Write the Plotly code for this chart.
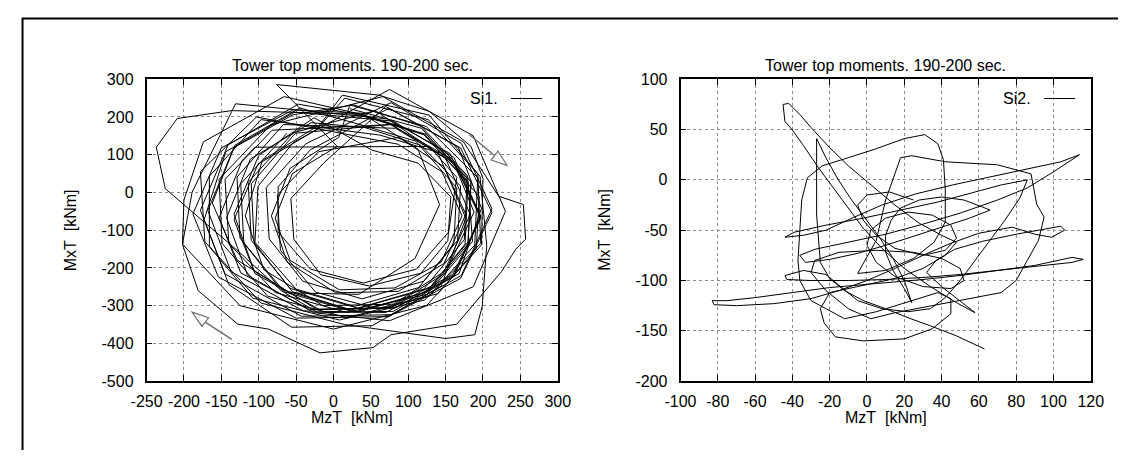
import plotly.graph_objects as go

W, H = 1131, 459
FONT = "Liberation Sans, Arial, Helvetica, sans-serif"

# ---------------- data: Si1 (left panel) ----------------
si1_name = "Si1."
si1_mzt = [
    22, 118, 180, 186, 125, 18, -78, -140, -145, -82,
    78, 150, 183, 148, 80, -14, -93, -118, -95, -18,
    12, 128, 193, 197, 122, 8, -108, -172, -178, -103,
    86, 145, 172, 144, 82, 8, -58, -78, -55, 5,
    -76, 61, 128, 184, 200, 198, 125, 0, -125, -202, -189, -131,
    72, 156, 188, 150, 76, -22, -106, -133, -100, -26,
    52, 113, 157, 153, 117, 48, -17, -53, -57, -13,
    70, 167, 198, 168, 70, -40, -137, -168, -132, -45,
    32, 110, 165, 161, 114, 28, -50, -105, -101, -54,
    75, 187, 230, 187, 75, -20, -70, -126, -225, -237, -209, -136,
    37, 121, 180, 176, 125, 33, -55, -106, -110, -51,
    76, 160, 197, 160, 76, -32, -124, -153, -122,
    -105, 128, 165, 154, 111, 40, -31, -74, -74, -31,
    74, 170, 212, 170, 74, -50, -154, -188, -150, -54,
    38, 113, 142, 109, 34, -58, -129, -162, -133, -54,
    27, 117, 179, 175, 121, 23, -71, -125, -129, -67,
    83, 161, 197, 161, 83, -19, -105, -133, -101, -23,
    15, 127, 196, 205, 199, 189, 150, 15, -97, -166, -166, -97,
    62, 144, 195, 191, 140, 58, -24, -71, -75, -20,
    87, 148, 177, 148, 87, 3, -62, -83, -58, 7,
    22, 124, 193, 189, 128, 18, -88, -149, -153, -84,
    66, 174, 221, 254, 257, 244, 225, 165, 77, 53, -18, -87, -128, -181, -202, -200, -174, -66,
    37, 124, 184, 180, 128, 33, -58, -110, -114, -54,
    56, 140, 177, 144, 52, -56, -140, -173, -144, -52,
    80, 161, 197, 161, 80, -26, -115, -143, -111, -30,
    42, 117, 170, 166, 121, 38, -41, -86, -90, -37,
    77, 171, 212, 171, 77, -43, -145, -178, -141, -47,
    32, 122, 184, 180, 126, 28, -66, -120, -124, -62,
]
si1_mxt = [
    222, 170, 30, -130, -270, -318, -265, -135, 35, 165,
    180, 90, -58, -210, -296, -300, -205, -62, 85, 180,
    258, 205, 50, -135, -285, -338, -280, -130, 55, 200,
    128, 55, -62, -185, -253, -258, -180, -68, 50, 122,
    286, 258, 215, 122, 37, -139, -299, -362, -300, -137, 1, 235,
    195, 103, -52, -213, -305, -310, -208, -58, 98, 198,
    112, 78, -12, -128, -214, -248, -218, -124, -16, 78,
    228, 120, -42, -215, -318, -314, -210, -48, 125, 224,
    182, 136, 12, -136, -252, -302, -256, -132, 16, 132,
    273, 150, -50, -250, -340, -320, -260, -158, 10, 120, 196, 217,
    207, 153, 27, -137, -263, -317, -263, -133, 23, 157,
    180, 87, -63, -217, -306, -310, -213, -67, 85,
    120, 122, 40, -105, -203, -240, -203, -105, 15, 113,
    223, 118, -53, -228, -329, -333, -224, -57, 118, 219,
    210, 115, -32, -175, -270, -266, -179, -28, 119, 206,
    232, 176, 45, -125, -256, -312, -256, -121, 41, 180,
    170, 79, -68, -219, -306, -310, -215, -72, 75, 166,
    250, 193, 43, -140, -302, -377, -387, -350, -293, -143, 43, 193,
    152, 104, -11, -149, -268, -308, -264, -153, -7, 108,
    146, 68, -58, -188, -262, -266, -184, -62, 64, 146,
    232, 175, 39, -139, -275, -332, -275, -135, 35, 179,
    254, 134, -10, -32, -124, -150, -209, -349, -377, -411, -425, -362, -349, -260, -137, -20, 134, 254,
    207, 154, 31, -131, -254, -307, -254, -127, 27, 158,
    217, 104, -68, -248, -353, -357, -244, -72, 108, 213,
    189, 93, -63, -223, -315, -319, -219, -67, 89, 185,
    172, 125, 17, -127, -235, -282, -235, -123, 13, 129,
    238, 130, -43, -220, -324, -328, -216, -47, 126, 234,
    207, 153, 27, -137, -263, -317, -263, -133, 23, 157,
]

# ---------------- data: Si2 (right panel) ----------------
si2_name = "Si2."
si2_pts = [
    (63, -168), (48, -155), (34, -145), (22, -137), (10, -128), (-2, -120), (-12, -110), (-20, -98),
    (-25, -82), (-26, -62), (-27, -35), (-27, -5), (-27, 22), (-27, 41),
    (-22, 22), (-16, 2), (-9, -18), (-1, -38), (7, -58), (14, -78), (20, -100), (24, -122),
    (20, -108), (14, -90), (10, -72), (10, -55), (13, -40), (18, -28), (28, -20), (40, -17),
    (52, -20), (62, -27), (66, -30),
    (55, -38), (40, -47), (25, -56), (10, -65), (-5, -73), (-20, -79), (-33, -82), (-36, -75),
    (-28, -69), (-10, -62), (10, -54), (30, -44), (50, -33), (70, -20), (86, -8), (100, 8), (114, 25),
    (104, 18), (86, 11), (66, 3), (46, -5), (26, -14), (8, -25), (-8, -38), (-22, -50), (-34, -55),
    (-44, -57), (-39, -52), (-22, -45), (-2, -38), (18, -30), (38, -22), (56, -13), (72, -5), (86, 0),
    (82, -18), (74, -40), (66, -60), (58, -80), (50, -100), (42, -117), (34, -128), (22, -131),
    (8, -128), (-5, -120), (-14, -106), (-22, -94), (-34, -90), (-44, -95), (-43, -99), (-30, -100),
    (-10, -100), (10, -99), (30, -97), (50, -94), (70, -90), (90, -85), (110, -77), (116, -79),
    (110, -82), (90, -86), (70, -90), (50, -95), (30, -99), (5, -103), (-20, -107), (-40, -112),
    (-60, -117), (-75, -120), (-83, -120), (-82, -124), (-70, -125), (-50, -123), (-30, -118),
    (-15, -110), (0, -100), (15, -88), (30, -75), (45, -63), (60, -53), (78, -47), (90, -54),
    (99, -57), (106, -50), (104, -46), (95, -49), (80, -54), (62, -61), (47, -69), (37, -80),
    (32, -92), (40, -106), (50, -120), (58, -132),
    (48, -122), (34, -106), (20, -88), (8, -68), (-2, -48), (-10, -28), (-18, -8), (-26, 12),
    (-34, 34), (-41, 52), (-44, 58), (-45, 75), (-42, 76), (-36, 65), (-30, 52), (-20, 32),
    (-10, 14), (2, -5), (15, -25), (28, -43), (40, -55), (48, -62),
    (42, -75), (30, -88), (15, -98), (-5, -106), (-20, -112), (-25, -128), (-23, -142), (-17, -156),
    (-2, -160), (20, -158), (35, -148), (45, -133), (45, -118), (38, -112), (20, -122), (5, -131),
    (-12, -138), (-30, -120), (-36, -100), (-37, -80), (-36, -50), (-35, -20), (-32, 2), (-24, 14),
    (-10, 22), (5, 31), (20, 41), (31, 45), (38, 36), (41, 20), (42, -10), (42, -42), (36, -62),
    (25, -78), (10, -90), (-5, -93), (5, -60), (10, -20), (18, 22), (24, 24), (42, 18), (70, 15),
    (88, 6), (91, -24), (95, -37), (92, -60), (86, -80), (80, -100), (72, -112), (55, -118),
    (35, -125), (15, -132), (2, -138),
    (-10, -128), (-22, -110), (-30, -92), (-28, -80), (-15, -72), (5, -70), (25, -72), (40, -78),
    (50, -88), (52, -100), (45, -108), (30, -106), (15, -96), (5, -82), (0, -65), (2, -50),
    (10, -38), (22, -32), (35, -35), (45, -45), (48, -58), (42, -70), (30, -75), (15, -68),
    (5, -55), (-2, -40), (-5, -25), (0, -15), (12, -12), (25, -20),
]
si2_mzt = [p[0] for p in si2_pts]
si2_mxt = [p[1] for p in si2_pts]

# ---------------- axes / labels ----------------
title_text = "Tower top moments. 190-200 sec."
xlabel = "MzT\u00a0\u00a0[kNm]"
ylabel = "MxT\u00a0\u00a0[kNm]"

x1_ticks = [-250, -200, -150, -100, -50, 0, 50, 100, 150, 200, 250, 300]
y1_ticks = [-500, -400, -300, -200, -100, 0, 100, 200, 300]
x2_ticks = [-100, -80, -60, -40, -20, 0, 20, 40, 60, 80, 100, 120]
y2_ticks = [-200, -150, -100, -50, 0, 50, 100]
lab = lambda v: [str(t) for t in v]

# arrows on the left panel (tail, tip, base corners) in data units
arrow1 = dict(tail=(182, 153), tip=(232, 72), c1=(220, 110), c2=(211, 86))
arrow2 = dict(tail=(-136, -389), tip=(-189, -317), c1=(-167, -332), c2=(-176, -355))

# ---------------- layout geometry (pixels) ----------------
L1 = (134, 556)
L2 = (682, 1103)
TOP, BOT = 74, 387.5
px = lambda v: v / W
py = lambda v: 1 - v / H

fig = go.Figure()
fig.add_trace(go.Scatter(x=si1_mzt, y=si1_mxt, mode="lines", name=si1_name,
                         line=dict(color="black", width=1), xaxis="x", yaxis="y", showlegend=False))
fig.add_trace(go.Scatter(x=si2_mzt, y=si2_mxt, mode="lines", name=si2_name,
                         line=dict(color="black", width=1), xaxis="x2", yaxis="y2", showlegend=False))

def axis(domain, rng, ticks, anchor, standoff):
    return dict(domain=domain, range=rng, anchor=anchor, tickmode="array",
                tickvals=ticks, ticktext=lab(ticks), showline=True, linecolor="black",
                linewidth=1.6, mirror="allticks", ticks="inside", ticklen=6, tickwidth=1,
                tickcolor="black", showgrid=True, gridcolor="#8c8c8c", griddash="dot",
                gridwidth=1, zeroline=False, ticklabelstandoff=standoff,
                tickfont=dict(family=FONT, size=16, color="black"), fixedrange=True)

fig.update_layout(
    width=W, height=H, margin=dict(l=0, r=0, t=0, b=0),
    paper_bgcolor="white", plot_bgcolor="white", showlegend=False,
    xaxis=axis([px(L1[0]), px(L1[1])], [-250, 300], x1_ticks, "y", 5),
    yaxis=axis([py(BOT), py(TOP)], [-500, 300], y1_ticks, "x", 8),
    xaxis2=axis([px(L2[0]), px(L2[1])], [-100, 120], x2_ticks, "y2", 5),
    yaxis2=axis([py(BOT), py(TOP)], [-200, 100], y2_ticks, "x2", 8),
)

ann = []
shapes = []
for (a, b), nm, ylab_x in ((L1, si1_name, 55.5), (L2, si2_name, 604)):
    cx = (a + b) / 2
    ann.append(dict(text=title_text, x=px(cx), y=py(60), xref="paper", yref="paper",
                    showarrow=False, xanchor="center", yanchor="middle",
                    font=dict(family=FONT, size=16, color="black")))
    ann.append(dict(text=xlabel, x=px(cx), y=py(425), xref="paper", yref="paper",
                    showarrow=False, xanchor="center", yanchor="middle",
                    font=dict(family=FONT, size=16, color="black")))
    ann.append(dict(text=ylabel, x=px(ylab_x), y=py((TOP + BOT) / 2), xref="paper", yref="paper",
                    showarrow=False, textangle=-90, xanchor="center", yanchor="middle",
                    font=dict(family=FONT, size=16, color="black")))
    ann.append(dict(text=nm, x=px(b - 59), y=py(94), xref="paper", yref="paper",
                    showarrow=False, xanchor="right", yanchor="middle",
                    font=dict(family=FONT, size=16, color="black")))
    shapes.append(dict(type="line", xref="paper", yref="paper", x0=px(b - 48), x1=px(b - 16),
                       y0=py(94), y1=py(94), line=dict(color="black", width=1)))

for ar in (arrow1, arrow2):
    mx = (ar["c1"][0] + ar["c2"][0]) / 2
    my = (ar["c1"][1] + ar["c2"][1]) / 2
    shapes.append(dict(type="line", xref="x", yref="y", x0=ar["tail"][0], y0=ar["tail"][1],
                       x1=mx, y1=my, line=dict(color="#6e6e6e", width=1.5)))
    path = "M {} {} L {} {} L {} {} Z".format(ar["tip"][0], ar["tip"][1], ar["c1"][0], ar["c1"][1],
                                              ar["c2"][0], ar["c2"][1])
    shapes.append(dict(type="path", xref="x", yref="y", path=path, fillcolor="white",
                       line=dict(color="#6e6e6e", width=1.2)))

# outer frame (top and left edges visible)
shapes.append(dict(type="line", xref="paper", yref="paper", x0=px(6.7), x1=1.0,
                   y0=py(11), y1=py(11), line=dict(color="black", width=2)))
shapes.append(dict(type="line", xref="paper", yref="paper", x0=px(6.7), x1=px(6.7),
                   y0=0, y1=py(10), line=dict(color="black", width=2)))

fig.update_layout(annotations=ann, shapes=shapes)
fig.write_html("out.html")
